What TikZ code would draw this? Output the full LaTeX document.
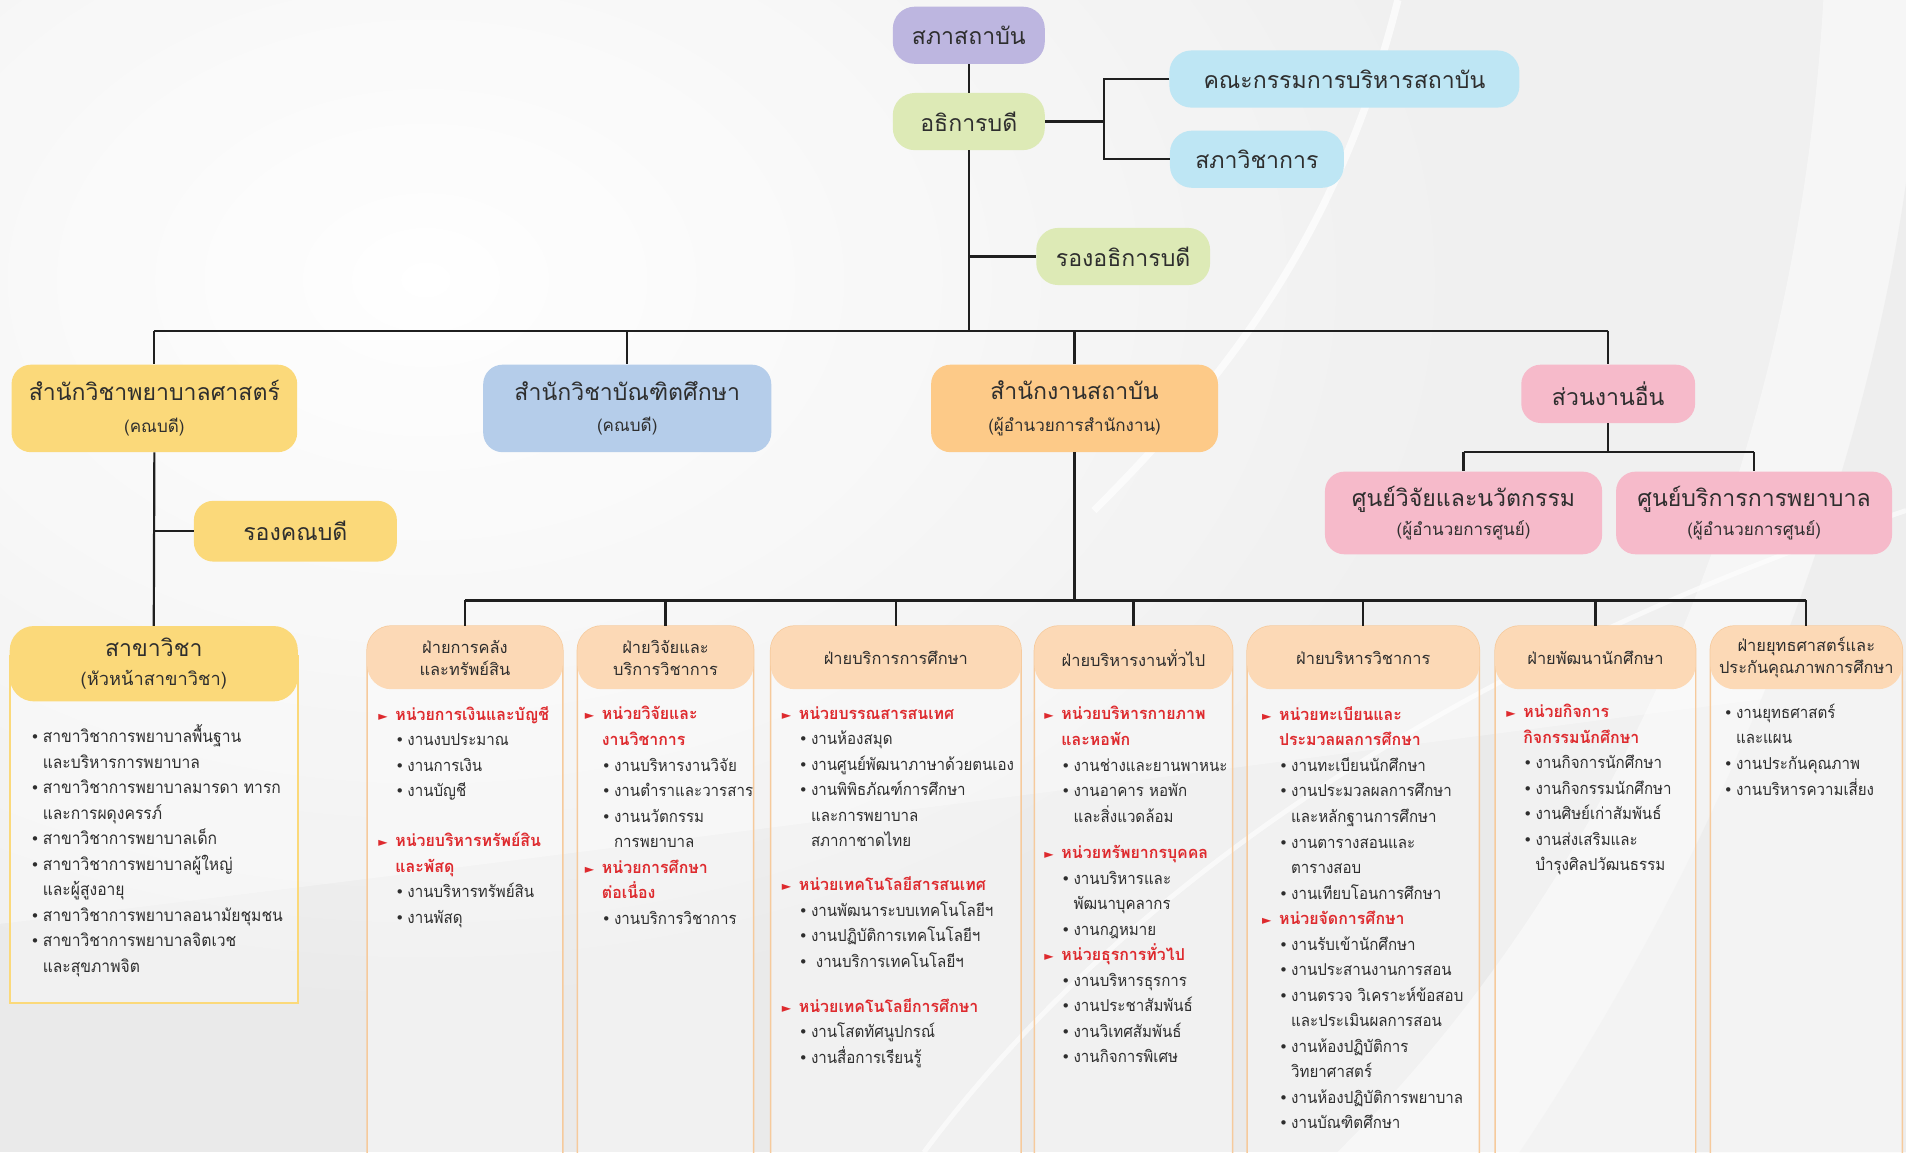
\documentclass[tikz,border=0pt]{standalone}
\usepackage{fontspec}
\setmainfont[Script=Thai]{Loma}
\newfontfamily\colfont[Script=Thai, UprightFeatures={FakeStretch=0.92}, BoldFeatures={FakeStretch=0.97}]{Loma}
\newfontfamily\dejavu{DejaVu Sans}
\definecolor{cPurple}{HTML}{BDB6E0}
\definecolor{cGreen}{HTML}{DDEAB6}
\definecolor{cCyan}{HTML}{BEE6F4}
\definecolor{cYellow}{HTML}{FBD97A}
\definecolor{cBlue}{HTML}{B5CDEA}
\definecolor{cOrange}{HTML}{FDCA88}
\definecolor{cPink}{HTML}{F6BACA}
\definecolor{cPeach}{HTML}{FCD9B6}
\definecolor{cColBorder}{HTML}{F6CA9C}
\definecolor{cRed}{HTML}{DE2A2E}
\definecolor{cText}{HTML}{2E2E2E}
\definecolor{cBg}{HTML}{EAEAEA}
\newcommand\tri{\makebox[14pt][l]{\textcolor{cRed}{\dejavu\fontsize{10}{10}\selectfont ►}}}
\newcommand\bul{\makebox[10pt][l]{\dejavu\fontsize{12.5}{12.5}\selectfont •}}
\newcommand\U[1]{\tri\textcolor{cRed}{\bfseries #1}}
\newcommand\UC[1]{\hspace*{14pt}\textcolor{cRed}{\bfseries #1}}
\newcommand\J[1]{\hspace*{14pt}\bul #1}
\newcommand\JC[1]{\hspace*{24pt}#1}
\newcommand\subt[1]{{\fontsize{14}{16}\selectfont #1}}
\tikzset{
  conn/.style={draw=black!88, line width=1.8pt},
  topbox/.style={rounded corners=18pt, minimum height=47pt, inner sep=0pt, text=cText, font=\fontsize{19}{24}\selectfont, align=center},
  lvbox/.style={rounded corners=16pt, inner sep=0pt, text=cText, font=\fontsize{19}{26}\selectfont, align=center},
  dhead/.style={fill=cPeach, rounded corners=20pt, minimum height=52pt, inner sep=0pt, text=cText, font=\fontsize{13.5}{18}\selectfont, align=center},
  colbody/.style={draw=cColBorder, line width=1.2pt, fill=white, fill opacity=0.35, rounded corners=20pt},
  coltext/.style={anchor=north west, inner sep=0pt, align=left, text=cText, font=\colfont\fontsize{13.5}{21}\selectfont, execute at begin node={\rule{0pt}{14pt}}},
}
\begin{document}
\begin{tikzpicture}[x=1pt,y=-1pt]
\useasboundingbox (0,0) rectangle (1568,948);
\begin{scope}
\clip (0,0) rectangle (1568,948);
% background
\fill[cBg] (0,0) rectangle (1568,948);
\shade[inner color=white, outer color=cBg] (350,230) ellipse (850 and 600);
\fill[white, opacity=0.3] (0,760) .. controls (500,700) and (1100,620) .. (1568,560) -- (1568,0) -- (0,0) -- cycle;
\fill[white, opacity=0.45] (1100,948) .. controls (1350,700) and (1480,350) .. (1500,0) -- (1568,0) -- (1568,948) -- cycle;
\fill[cBg, opacity=0.6] (1250,948) .. controls (1450,650) and (1540,350) .. (1568,150) -- (1568,948) -- cycle;
\draw[white, line width=6pt, opacity=0.7] (1150,0) .. controls (1100,200) and (1000,320) .. (900,420);
\draw[white, line width=4pt, opacity=0.6] (760,948) .. controls (900,760) and (1150,560) .. (1568,420);
\end{scope}

% ---------- top ----------
\node[topbox, fill=cPurple, minimum width=125pt] (council) at (797,29) {สภาสถาบัน};
\node[topbox, fill=cGreen, minimum width=125pt] (rector) at (797,100) {อธิการบดี};
\node[topbox, fill=cCyan, minimum width=288pt] (board) at (1106,65) {คณะกรรมการบริหารสถาบัน};
\node[topbox, fill=cCyan, minimum width=143pt] (acad) at (1034,131) {สภาวิชาการ};
\node[topbox, fill=cGreen, minimum width=143pt] (vp) at (924,211) {รองอธิการบดี};
\coordinate (br) at (908,100);
\coordinate (bus1) at (797,272);

\draw[conn] (council) -- (rector);
\draw[conn] (rector.east) -- (br);
\draw[conn] (board.west) -- (board.west -| br) -- (acad.west -| br) -- (acad.west);
\draw[conn] (rector.south) -- (bus1);
\draw[conn] (rector.south |- vp.west) -- (vp.west);

% ---------- level 2 ----------
\node[lvbox, fill=cYellow, minimum width=235pt, minimum height=72pt] (nurse) at (127,336) {สำนักวิชาพยาบาลศาสตร์\\\subt{(คณบดี)}};
\node[lvbox, fill=cBlue, minimum width=237pt, minimum height=72pt] (grad) at (516,336) {สำนักวิชาบัณฑิตศึกษา\\\subt{(คณบดี)}};
\node[lvbox, fill=cOrange, minimum width=236pt, minimum height=72pt] (office) at (884,336) {สำนักงานสถาบัน\\\subt{(ผู้อำนวยการสำนักงาน)}};
\node[lvbox, fill=cPink, minimum width=143pt, minimum height=48pt] (other) at (1323,324) {ส่วนงานอื่น};
\node[lvbox, fill=cPink, minimum width=228pt, minimum height=68pt] (rc) at (1204,422) {ศูนย์วิจัยและนวัตกรรม\\[-2pt]\subt{(ผู้อำนวยการศูนย์)}};
\node[lvbox, fill=cPink, minimum width=227pt, minimum height=68pt] (sc) at (1443,422) {ศูนย์บริการการพยาบาล\\[-2pt]\subt{(ผู้อำนวยการศูนย์)}};

\draw[conn] (nurse.north |- bus1) -- (other.north |- bus1);
\foreach \n in {nurse,grad,office,other} \draw[conn] (\n.north |- bus1) -- (\n.north);

\coordinate (obus) at (1323,372);
\draw[conn] (other.south) -- (obus);
\draw[conn] (rc.north |- obus) -- (sc.north |- obus);
\draw[conn] (rc.north |- obus) -- (rc.north);
\draw[conn] (sc.north |- obus) -- (sc.north);

% ---------- left column ----------
\node[lvbox, fill=cYellow, minimum width=167pt, minimum height=50pt] (vdean) at (243,437) {รองคณบดี};
\path[draw=cYellow, line width=1.6pt, fill=white, fill opacity=0.35] (8,540) rectangle (245,825);
\node[lvbox, fill=cYellow, minimum width=237pt, minimum height=62pt, rounded corners=20pt] (major) at (126.5,546) {สาขาวิชา\\[-2pt]\subt{\fontsize{15}{16}\selectfont(หัวหน้าสาขาวิชา)}};
\draw[conn] (nurse.south) -- (major.north);
\draw[conn] (nurse.south |- vdean.west) -- (vdean.west);
\node[coltext, font=\colfont\fontsize{14}{21}\selectfont] (majlist) at (25,596) {%
\bul สาขาวิชาการพยาบาลพื้นฐาน\\
\hspace*{10pt}และบริหารการพยาบาล\\
\bul สาขาวิชาการพยาบาลมารดา ทารก\\
\hspace*{10pt}และการผดุงครรภ์\\
\bul สาขาวิชาการพยาบาลเด็ก\\
\bul สาขาวิชาการพยาบาลผู้ใหญ่\\
\hspace*{10pt}และผู้สูงอายุ\\
\bul สาขาวิชาการพยาบาลอนามัยชุมชน\\
\bul สาขาวิชาการพยาบาลจิตเวช\\
\hspace*{10pt}และสุขภาพจิต};

% ---------- departments ----------
\foreach \l/\r in {302/463,475/620,634/840,851/1014,1026/1217,1230/1395,1407/1565}
  \path[colbody] (\l,515) rectangle (\r,1000);

\node[dhead, minimum width=161pt] (d1) at (382.5,541) {ฝ่ายการคลัง\\และทรัพย์สิน};
\node[dhead, minimum width=145pt] (d2) at (547.5,541) {ฝ่ายวิจัยและ\\บริการวิชาการ};
\node[dhead, minimum width=206pt] (d3) at (737,541) {ฝ่ายบริการการศึกษา};
\node[dhead, minimum width=163pt] (d4) at (932.5,541) {ฝ่ายบริหารงานทั่วไป};
\node[dhead, minimum width=191pt] (d5) at (1121.5,541) {ฝ่ายบริหารวิชาการ};
\node[dhead, minimum width=165pt] (d6) at (1312.5,541) {ฝ่ายพัฒนานักศึกษา};
\node[dhead, minimum width=158pt] (d7) at (1486,541) {ฝ่ายยุทธศาสตร์และ\\ประกันคุณภาพการศึกษา};

\coordinate (bus2) at (884,494);
\draw[conn] (office.south) -- (bus2);
\draw[conn] (d1.north |- bus2) -- (d7.north |- bus2);
\foreach \n in {d1,d2,d3,d4,d5,d6,d7} \draw[conn] (\n.north |- bus2) -- (\n.north);

\node[coltext] (t1) at (311,581) {%
\U{หน่วยการเงินและบัญชี}\\
\J{งานงบประมาณ}\\
\J{งานการเงิน}\\
\J{งานบัญชี}\\[20pt]
\U{หน่วยบริหารทรัพย์สิน}\\
\UC{และพัสดุ}\\
\J{งานบริหารทรัพย์สิน}\\
\J{งานพัสดุ}};

\node[coltext] (t2) at (481,581) {%
\U{หน่วยวิจัยและ}\\
\UC{งานวิชาการ}\\
\J{งานบริหารงานวิจัย}\\
\J{งานตำราและวารสาร}\\
\J{งานนวัตกรรม}\\
\JC{การพยาบาล}\\
\U{หน่วยการศึกษา}\\
\UC{ต่อเนื่อง}\\
\J{งานบริการวิชาการ}};

\node[coltext] (t3) at (643,581) {%
\U{หน่วยบรรณสารสนเทศ}\\
\J{งานห้องสมุด}\\
\J{งานศูนย์พัฒนาภาษาด้วยตนเอง}\\
\J{งานพิพิธภัณฑ์การศึกษา}\\
\JC{และการพยาบาล}\\
\JC{สภากาชาดไทย}\\[15pt]
\U{หน่วยเทคโนโลยีสารสนเทศ}\\
\J{งานพัฒนาระบบเทคโนโลยีฯ}\\
\J{งานปฏิบัติการเทคโนโลยีฯ}\\
\J{\hspace*{4pt}งานบริการเทคโนโลยีฯ}\\[16pt]
\U{หน่วยเทคโนโลยีการศึกษา}\\
\J{งานโสตทัศนูปกรณ์}\\
\J{งานสื่อการเรียนรู้}};

\node[coltext] (t4) at (859,581) {%
\U{หน่วยบริหารกายภาพ}\\
\UC{และหอพัก}\\
\J{งานช่างและยานพาหนะ}\\
\J{งานอาคาร หอพัก}\\
\JC{และสิ่งแวดล้อม}\\[9pt]
\U{หน่วยทรัพยากรบุคคล}\\
\J{งานบริหารและ}\\
\JC{พัฒนาบุคลากร}\\
\J{งานกฎหมาย}\\
\U{หน่วยธุรการทั่วไป}\\
\J{งานบริหารธุรการ}\\
\J{งานประชาสัมพันธ์}\\
\J{งานวิเทศสัมพันธ์}\\
\J{งานกิจการพิเศษ}};

\node[coltext] (t5) at (1038,581) {%
\U{หน่วยทะเบียนและ}\\
\UC{ประมวลผลการศึกษา}\\
\J{งานทะเบียนนักศึกษา}\\
\J{งานประมวลผลการศึกษา}\\
\JC{และหลักฐานการศึกษา}\\
\J{งานตารางสอนและ}\\
\JC{ตารางสอบ}\\
\J{งานเทียบโอนการศึกษา}\\
\U{หน่วยจัดการศึกษา}\\
\J{งานรับเข้านักศึกษา}\\
\J{งานประสานงานการสอน}\\
\J{งานตรวจ วิเคราะห์ข้อสอบ}\\
\JC{และประเมินผลการสอน}\\
\J{งานห้องปฏิบัติการ}\\
\JC{วิทยาศาสตร์}\\
\J{งานห้องปฏิบัติการพยาบาล}\\
\J{งานบัณฑิตศึกษา}};

\node[coltext] (t6) at (1239,579) {%
\U{หน่วยกิจการ}\\
\UC{กิจกรรมนักศึกษา}\\
\J{งานกิจการนักศึกษา}\\
\J{งานกิจกรรมนักศึกษา}\\
\J{งานศิษย์เก่าสัมพันธ์}\\
\J{งานส่งเสริมและ}\\
\JC{บำรุงศิลปวัฒนธรรม}};

\node[coltext] (t7) at (1418,579) {%
\bul งานยุทธศาสตร์\\
\hspace*{10pt}และแผน\\
\bul งานประกันคุณภาพ\\
\bul งานบริหารความเสี่ยง};
\end{tikzpicture}
\end{document}
